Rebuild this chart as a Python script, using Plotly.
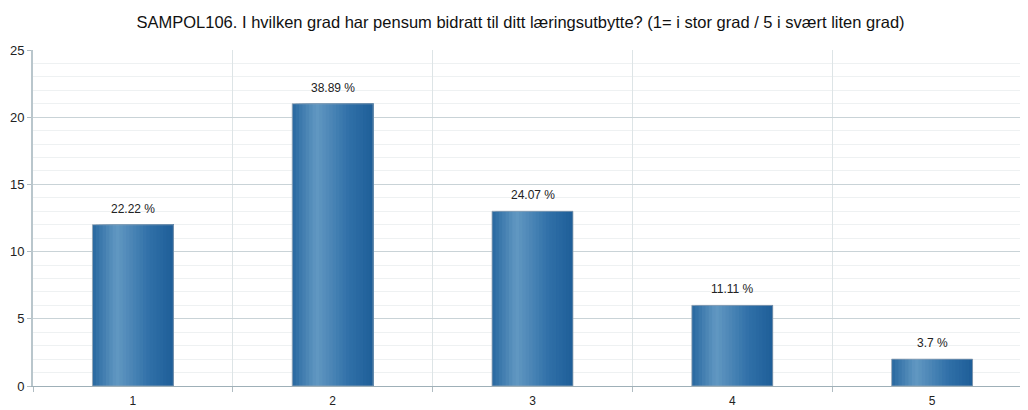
import plotly.graph_objects as go

categories = ["1", "2", "3", "4", "5"]
counts = [12, 21, 13, 6, 2]
pct_labels = ["22.22 %", "38.89 %", "24.07 %", "11.11 %", "3.7 %"]
title_text = "SAMPOL106. I hvilken grad har pensum bidratt til ditt læringsutbytte? (1= i stor grad / 5 i svært liten grad)"

BAR_W = 0.405
N = 24
# horizontal gradient stops (position 0..1, rgb)
stops = [(0.0, (40, 104, 160)), (0.3, (98, 152, 194)), (0.7, (48, 112, 168)), (1.0, (30, 94, 152))]

def col(t):
    for (p0, c0), (p1, c1) in zip(stops[:-1], stops[1:]):
        if p0 <= t <= p1:
            f = (t - p0) / (p1 - p0)
            return "rgb(%d,%d,%d)" % tuple(round(a + (b - a) * f) for a, b in zip(c0, c1))
    return "rgb(%d,%d,%d)" % stops[-1][1]

fig = go.Figure()
sw = BAR_W / N
for i in range(N):
    fig.add_trace(go.Bar(
        x=categories, y=counts, width=BAR_W - i * sw, offset=-BAR_W / 2 + i * sw,
        marker=dict(color=col((i + 0.5) / N), line=dict(width=0)),
        hoverinfo="skip", showlegend=False))
fig.add_trace(go.Bar(
    x=categories, y=counts, width=BAR_W, offset=-BAR_W / 2,
    marker=dict(color="rgba(0,0,0,0)", line=dict(color="rgba(150,165,180,0.8)", width=1)),
    hoverinfo="skip", showlegend=False))

for idx, (v, t) in enumerate(zip(counts, pct_labels)):
    fig.add_annotation(x=idx, y=v, text=t, showarrow=False, yanchor="bottom", yshift=7,
                       font=dict(family="Liberation Sans, Arial, sans-serif", size=12, color="#222"))

fig.update_layout(
    width=1020, height=402,
    margin=dict(l=25, r=0, t=42, b=24, autoexpand=False),
    barmode="overlay",
    plot_bgcolor="white", paper_bgcolor="white",
    font=dict(family="Liberation Sans, Arial, sans-serif", size=12, color="#222"),
    title=dict(text=title_text, x=0.5025, xanchor="center", y=1 - 14 / 402, yanchor="middle",
               font=dict(size=16.5, color="#111")),
    xaxis=dict(type="category", tickson="boundaries", showgrid=True, gridcolor="#dde4e6",
               ticks="outside", ticklen=5, tickcolor="#b0bcc2", showline=True,
               linecolor="#9fb0b8", linewidth=1, range=[-0.5, 4.48], automargin=False,
               ticklabelstandoff=4, tickfont=dict(size=12)),
    yaxis=dict(range=[0, 25], dtick=5, showgrid=True, gridcolor="#c9d3d7",
               ticks="outside", ticklen=4, tickcolor="#b0bcc2", showline=True,
               linecolor="#b9c6cc", linewidth=2, zeroline=False, automargin=False,
               minor=dict(dtick=1, showgrid=True, gridcolor="#eef1f2"),
               tickfont=dict(size=13)),
)

fig.write_html("out.html")
